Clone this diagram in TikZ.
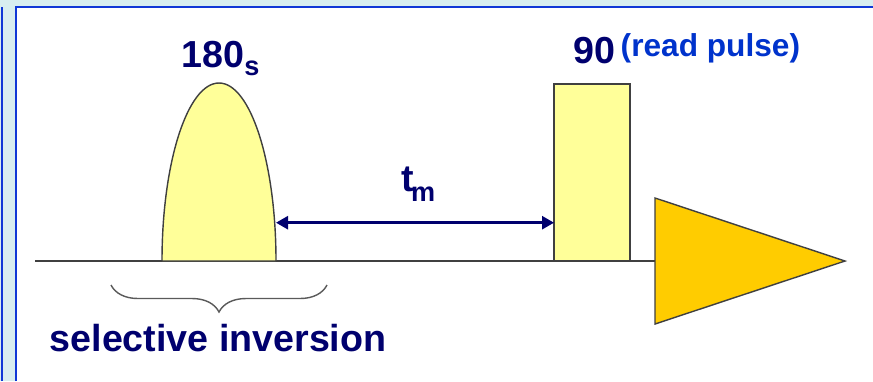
\documentclass[tikz,border=0pt]{standalone}
\usepackage{fontspec}
\setmainfont{Liberation Sans}
\usetikzlibrary{decorations.pathreplacing,arrows.meta}

\definecolor{fundo}{RGB}{216,238,240}
\definecolor{moldura}{RGB}{16,56,214}
\definecolor{marinho}{RGB}{0,0,110}
\definecolor{azul}{RGB}{0,51,204}
\definecolor{amarelo}{RGB}{255,255,153}
\definecolor{ouro}{RGB}{255,204,0}
\definecolor{traco}{RGB}{64,64,64}
\definecolor{cinza}{RGB}{90,90,90}

\newcommand{\tamG}{\fontsize{10.7pt}{12pt}\selectfont}
\newcommand{\tamP}{\fontsize{7.7pt}{9pt}\selectfont}
\newcommand{\tamM}{\fontsize{9pt}{11pt}\selectfont}

\begin{document}
\begin{tikzpicture}[x=0.01cm, y=0.01cm,
    rotulo/.style={inner sep=0pt, anchor=base west, text=marinho, font=\bfseries\tamG},
    pulso/.style={draw=traco, fill=amarelo, line width=0.4pt},
    seta/.style={{Triangle[length=0.12cm,width=0.13cm]}-{Triangle[length=0.12cm,width=0.13cm]}, draw=marinho, line width=0.75pt}]

        % moldura
        \useasboundingbox (0,0) rectangle (873,381);
        \fill[fundo] (0,0) rectangle (873,381);
        \fill[white] (15.8,0) rectangle (873,374.3);
        \draw[moldura, line width=0.5pt] (1.8,0) -- (1.8,374);
        \draw[moldura, line width=0.5pt] (15.8,0) -- (15.8,374.3) -- (873,374.3);

        % linha de base
        \coordinate (ini) at (35,120);
        \coordinate (fim) at (845,120);
        \draw[traco, line width=0.6pt] (ini) -- (fim);

        % pulsos
        \filldraw[pulso] (162,120) arc[start angle=180, end angle=0, x radius=57, y radius=178] -- cycle;
        \node[pulso, minimum width=0.76cm, minimum height=1.77cm, inner sep=0pt, outer sep=0pt, anchor=south west] (leitura) at (554,120) {};
        \filldraw[pulso, fill=ouro] (655,183) -- (fim) -- (655,57) -- cycle;

        % tempo de mistura
        \coordinate (borda) at (276,158.3);
        \draw[seta] (borda) -- (leitura.west |- borda);

        % chave
        \draw[decorate, decoration={brace, amplitude=0.27cm}, draw=cinza, line width=0.4pt] (327,96) -- (111,96);

        % rótulos
        \node[rotulo] (p180) at (181,313.7) {180\raisebox{-0.084cm}{\tamP s}};
        \node[rotulo] (p90) at (572.5,317.7) {90};
        \node[rotulo, text=azul, font=\bfseries\tamM] (leit) at (620,324.3) {(read pulse)};
        \node[rotulo] (tm) at (401,189.3) {t\kern-0.03cm\raisebox{-0.1cm}{\tamP m}};
        \node[rotulo] (sel) at (49,30) {selective inversion};

    \end{tikzpicture}
\end{document}
